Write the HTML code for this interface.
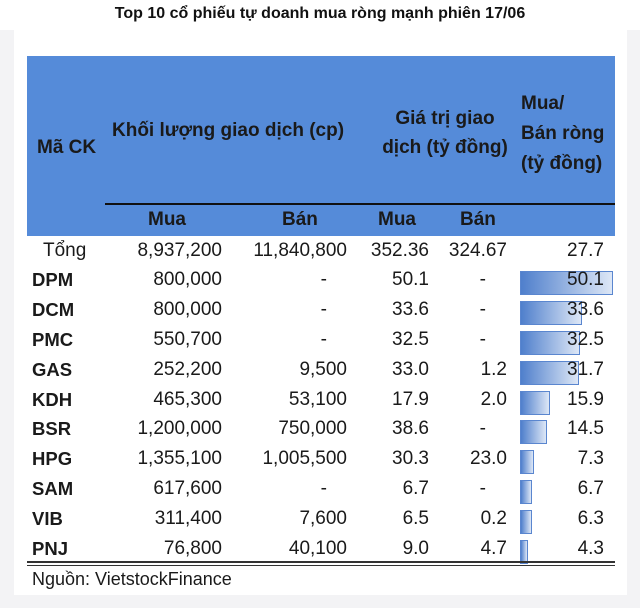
<!DOCTYPE html>
<html><head><meta charset="utf-8"><style>
body{margin:0;width:640px;height:608px;background:#f3f3f5;position:relative;overflow:hidden;font-family:"Liberation Sans",sans-serif;color:#1a1a1a}
.a{position:absolute;white-space:nowrap}
.t{font-size:16px;font-weight:bold;color:#111}
.h{font-size:19px;font-weight:bold;color:#1a1a1a}
.r{font-size:19px;text-align:right}
.c{font-weight:bold;font-size:18.5px}
.bar{position:absolute;left:520px;height:24px;border:1px solid #5a86cf;background:linear-gradient(to right,#4f7fcc,#dde7f6);box-sizing:border-box}
</style></head><body>
<div class="a" style="left:0;top:0;width:640px;height:30px;background:#fff"></div>
<div class="a t" style="left:0;width:640px;top:5px;text-align:center">Top 10 cổ phiếu tự doanh mua ròng mạnh phiên 17/06</div>
<div class="a" style="left:14px;top:30px;width:613px;height:565px;background:#fff"></div>
<div class="a" style="left:27px;top:56px;width:588px;height:180px;background:#558bd9"></div>
<div class="a" style="left:105px;top:203px;width:510px;height:2px;background:#111"></div>
<div class="a h" style="left:37px;top:137px">Mã CK</div>
<div class="a h" style="left:112px;top:120px">Khối lượng giao dịch (cp)</div>
<div class="a h" style="left:375px;top:104px;width:140px;text-align:center;line-height:29px;white-space:normal">Giá trị giao<br>dịch (tỷ đồng)</div>
<div class="a h" style="left:521px;top:89px;line-height:30px;white-space:normal;width:100px">Mua/<br>Bán ròng<br>(tỷ đồng)</div>
<div class="a h" style="left:148px;top:209px">Mua</div>
<div class="a h" style="left:282px;top:209px">Bán</div>
<div class="a h" style="left:378px;top:209px">Mua</div>
<div class="a h" style="left:460px;top:209px">Bán</div>
<div id="rows"></div>
<div class="a" style="left:27px;top:561px;width:588px;height:2px;background:#333"></div>
<div class="a" style="left:27px;top:565px;width:588px;height:1px;background:#333"></div>
<div class="a" style="left:32px;top:569px;font-size:18px">Nguồn: VietstockFinance</div>
<script>
var d=[["Tổng","8,937,200","11,840,800","352.36","324.67","27.7",0],
["DPM","800,000","-","50.1","-","50.1",1],["DCM","800,000","-","33.6","-","33.6",1],["PMC","550,700","-","32.5","-","32.5",1],["GAS","252,200","9,500","33.0","1.2","31.7",1],["KDH","465,300","53,100","17.9","2.0","15.9",1],["BSR","1,200,000","750,000","38.6","-","14.5",1],["HPG","1,355,100","1,005,500","30.3","23.0","7.3",1],["SAM","617,600","-","6.7","-","6.7",1],["VIB","311,400","7,600","6.5","0.2","6.3",1],["PNJ","76,800","40,100","9.0","4.7","4.3",1]];
var h="";
d.forEach(function(r,i){var y=239.5+i*29.8;
if(r[6]){var w=Math.round(parseFloat(r[5])/50.1*93);h+='<div class="bar" style="top:'+(y+2)+'px;width:'+w+'px"></div>';}
h+='<div class="a '+(i?'c':'r')+'" style="left:'+(i?32:43)+'px;top:'+y+'px">'+r[0]+'</div>';
var R=[222,347,429,507,604];
for(var k=0;k<5;k++){var v=r[k+1];var rr=R[k];if(v=="-"){rr=k==1?327:486;}
h+='<div class="a r" style="left:'+(rr-160)+'px;width:160px;top:'+y+'px">'+v+'</div>';}
});
document.getElementById("rows").innerHTML=h;
</script>
</body></html>
